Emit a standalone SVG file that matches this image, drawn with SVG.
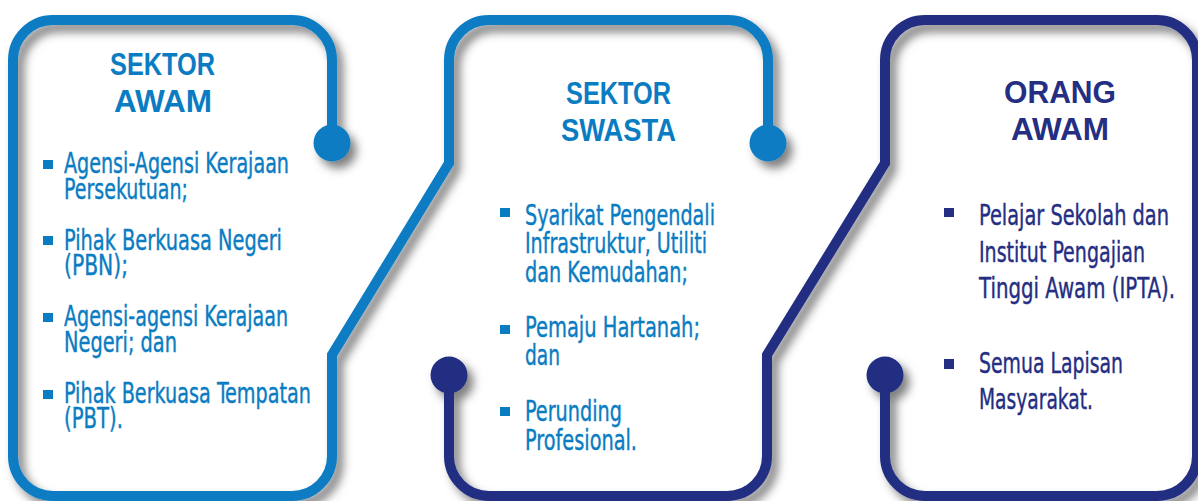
<svg xmlns="http://www.w3.org/2000/svg" width="1198" height="501" viewBox="0 0 1198 501">
  <defs>
    <filter id="sh" x="-20%" y="-20%" width="140%" height="140%">
      <feDropShadow dx="6" dy="7" stdDeviation="5" flood-color="#000" flood-opacity="0.5"/>
    </filter>
    <style>
      .line { fill: none; stroke-width: 10; stroke-linejoin: miter; }
      .lb { stroke: #0a7cc2; }
      .nv { stroke: #242e82; }
      .dot-lb { fill: #0a7cc2; }
      .dot-nv { fill: #242e82; }
      .title { font-family: "Liberation Sans", Arial, sans-serif; font-weight: bold; font-size: 31px; }
      .body { font-family: "Liberation Sans Narrow", "DejaVu Sans Condensed", "Liberation Sans", sans-serif; font-size: 29px; stroke-width: 0.4px; }
      .tlb { fill: #0a7cc2; }
      .tnv { fill: #242e82; }
      .body.tlb { stroke: #0a7cc2; }
      .body.tnv { stroke: #242e82; }
    </style>
  </defs>
  <rect width="1198" height="501" fill="#ffffff"/>

  <g id="connectors" filter="url(#sh)">
    <path class="line lb" d="M332 143 V60 A40 40 0 0 0 292 20 H53 A40 40 0 0 0 13 60 V456 A40 40 0 0 0 53 496 H292 A40 40 0 0 0 332 456 V355 L449 163 V60 A40 40 0 0 1 489 20 H728 A40 40 0 0 1 768 60 V143"/>
    <circle class="dot-lb" cx="332" cy="143" r="18.5"/>
    <circle class="dot-lb" cx="768" cy="143" r="18.5"/>
    <path class="line nv" d="M449 375 V456 A40 40 0 0 0 489 496 H727 A40 40 0 0 0 767 456 V355 L885 163 V60 A40 40 0 0 1 925 20 H1157 A40 40 0 0 1 1197 60 V456 A40 40 0 0 1 1157 496 H925 A40 40 0 0 1 885 456 V375"/>
    <circle class="dot-nv" cx="449" cy="375" r="18.5"/>
    <circle class="dot-nv" cx="885" cy="375" r="18.5"/>
  </g>

  <g id="sektor-awam">
    <text class="title tlb" x="110" y="75" textLength="105" lengthAdjust="spacingAndGlyphs">SEKTOR</text>
    <text class="title tlb" x="114" y="112" textLength="98" lengthAdjust="spacingAndGlyphs">AWAM</text>
    <rect class="dot-lb" x="43" y="160" width="10" height="9"/>
    <text class="body tlb" x="64" y="173" textLength="225" lengthAdjust="spacingAndGlyphs">Agensi-Agensi Kerajaan</text>
    <text class="body tlb" x="64" y="199" textLength="124" lengthAdjust="spacingAndGlyphs">Persekutuan;</text>
    <rect class="dot-lb" x="43" y="236" width="10" height="9"/>
    <text class="body tlb" x="64" y="250" textLength="218" lengthAdjust="spacingAndGlyphs">Pihak Berkuasa Negeri</text>
    <text class="body tlb" x="64" y="275" textLength="64" lengthAdjust="spacingAndGlyphs">(PBN);</text>
    <rect class="dot-lb" x="43" y="313" width="10" height="9"/>
    <text class="body tlb" x="64" y="326" textLength="224" lengthAdjust="spacingAndGlyphs">Agensi-agensi Kerajaan</text>
    <text class="body tlb" x="64" y="352" textLength="113" lengthAdjust="spacingAndGlyphs">Negeri; dan</text>
    <rect class="dot-lb" x="43" y="390" width="10" height="9"/>
    <text class="body tlb" x="64" y="403" textLength="247" lengthAdjust="spacingAndGlyphs">Pihak Berkuasa Tempatan</text>
    <text class="body tlb" x="64" y="428" textLength="59" lengthAdjust="spacingAndGlyphs">(PBT).</text>
  </g>

  <g id="sektor-swasta">
    <text class="title tlb" x="566" y="104" textLength="105" lengthAdjust="spacingAndGlyphs">SEKTOR</text>
    <text class="title tlb" x="561" y="141" textLength="115" lengthAdjust="spacingAndGlyphs">SWASTA</text>
    <rect class="dot-lb" x="500" y="208" width="10" height="9"/>
    <text class="body tlb" x="525" y="225" textLength="190" lengthAdjust="spacingAndGlyphs">Syarikat Pengendali</text>
    <text class="body tlb" x="525" y="253" textLength="182" lengthAdjust="spacingAndGlyphs">Infrastruktur, Utiliti</text>
    <text class="body tlb" x="525" y="282" textLength="163" lengthAdjust="spacingAndGlyphs">dan Kemudahan;</text>
    <rect class="dot-lb" x="500" y="325" width="10" height="9"/>
    <text class="body tlb" x="525" y="337" textLength="175" lengthAdjust="spacingAndGlyphs">Pemaju Hartanah;</text>
    <text class="body tlb" x="525" y="365" textLength="35" lengthAdjust="spacingAndGlyphs">dan</text>
    <rect class="dot-lb" x="500" y="407" width="10" height="9"/>
    <text class="body tlb" x="525" y="421" textLength="97" lengthAdjust="spacingAndGlyphs">Perunding</text>
    <text class="body tlb" x="525" y="450" textLength="112" lengthAdjust="spacingAndGlyphs">Profesional.</text>
  </g>

  <g id="orang-awam">
    <text class="title tnv" x="1004" y="103" textLength="112" lengthAdjust="spacingAndGlyphs">ORANG</text>
    <text class="title tnv" x="1011" y="140" textLength="98" lengthAdjust="spacingAndGlyphs">AWAM</text>
    <rect class="dot-nv" x="944" y="208" width="10" height="9"/>
    <text class="body tnv" x="979" y="225" textLength="190" lengthAdjust="spacingAndGlyphs">Pelajar Sekolah dan</text>
    <text class="body tnv" x="979" y="262" textLength="166" lengthAdjust="spacingAndGlyphs">Institut Pengajian</text>
    <text class="body tnv" x="979" y="298" textLength="196" lengthAdjust="spacingAndGlyphs">Tinggi Awam (IPTA).</text>
    <rect class="dot-nv" x="944" y="359" width="10" height="10"/>
    <text class="body tnv" x="979" y="373" textLength="144" lengthAdjust="spacingAndGlyphs">Semua Lapisan</text>
    <text class="body tnv" x="979" y="409" textLength="114" lengthAdjust="spacingAndGlyphs">Masyarakat.</text>
  </g>
</svg>
